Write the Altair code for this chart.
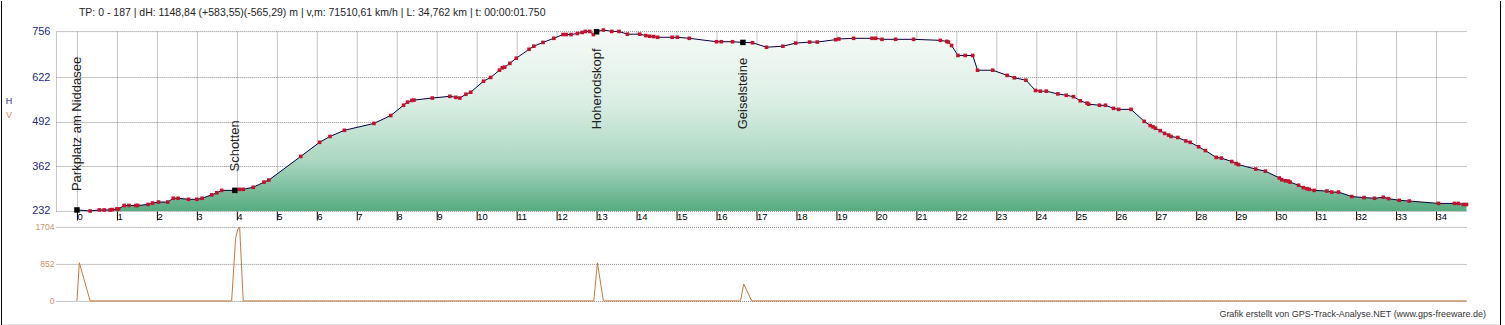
import altair as alt
import pandas as pd

# ---------------- data ----------------
km = [0.00, 0.33, 0.56, 0.68, 0.83, 0.88, 1.00, 1.04, 1.18, 1.30, 1.47, 1.52, 1.78, 1.89, 2.04, 2.27,
      2.41, 2.53, 2.79, 3.00, 3.13, 3.37, 3.50, 3.62, 3.95, 4.07, 4.16, 4.41, 4.68, 4.80, 5.60, 6.07,
      6.33, 6.69, 7.43, 7.85, 8.17, 8.27, 8.38, 8.43, 8.89, 9.33, 9.48, 9.58, 9.73, 9.85, 10.17, 10.35,
      10.57, 10.64, 10.70, 10.83, 10.99, 11.31, 11.43, 11.66, 11.93, 12.16, 12.24, 12.36, 12.52, 12.64,
      12.72, 12.83, 12.92, 13.00, 13.17, 13.38, 13.56, 13.77, 14.08, 14.23, 14.33, 14.43, 14.53, 14.89,
      15.02, 15.32, 16.00, 16.12, 16.40, 16.66, 16.90, 17.25, 17.66, 17.98, 18.33, 18.52, 18.98, 19.06,
      19.43, 19.89, 19.98, 20.14, 20.48, 20.93, 21.60, 21.76, 21.80, 21.88, 22.04, 22.22, 22.41, 22.53,
      22.91, 23.27, 23.45, 23.74, 23.98, 24.10, 24.25, 24.54, 24.75, 24.93, 25.10, 25.27, 25.31, 25.58,
      25.73, 25.93, 26.06, 26.37, 26.70, 26.85, 26.92, 26.98, 27.10, 27.21, 27.31, 27.37, 27.54, 27.74,
      27.85, 28.06, 28.23, 28.50, 28.63, 28.89, 29.00, 29.06, 29.49, 29.73, 30.08, 30.14, 30.23, 30.31,
      30.35, 30.56, 30.68, 30.77, 30.83, 30.95, 31.27, 31.39, 31.56, 31.89, 32.20, 32.46, 32.68, 32.81,
      33.08, 33.33, 34.06, 34.46, 34.56, 34.68, 34.762]
elevation = [235, 232, 235, 235, 235, 236, 238, 238, 248, 248, 248, 248, 251, 255, 258, 258,
             269, 269, 266, 266, 269, 279, 285, 292, 292, 295, 295, 301, 316, 322, 391, 432,
             449, 467, 487, 510, 540, 549, 554, 555, 561, 566, 563, 561, 572, 578, 610, 621,
             642, 649, 651, 662, 677, 703, 712, 723, 735, 746, 746, 746, 749, 752,
             755, 755, 746, 754, 759, 755, 755, 747, 747, 743, 741, 740, 738, 738,
             738, 735, 725, 725, 725, 723, 722, 709, 712, 721, 724, 724, 731, 733,
             735, 735, 735, 732, 732, 732, 729, 726, 724, 714, 685, 685, 685, 642,
             642, 627, 620, 613, 583, 581, 581, 573, 569, 565, 553, 546, 543, 540,
             540, 531, 528, 528, 493, 481, 477, 473, 466, 458, 453, 449, 446, 436,
             432, 419, 408, 388, 386, 376, 370, 367, 354, 348, 328, 323, 320, 319,
             316, 307, 300, 297, 295, 292, 290, 287, 287, 274, 271, 269, 272, 268,
             263, 261, 254, 254, 254, 251, 251]

wp_names = ["Parkplatz am Niddasee", "Schotten", "Hoherodskopf", "Geiselsteine"]
wp_km = [0.00, 3.95, 13.00, 16.66]
wp_ele = [235, 292, 754, 723]

speed_km = [0.00, 0.06, 0.33, 3.87, 3.97, 4.02, 4.07, 4.16, 12.93, 13.02, 13.17, 16.60, 16.68, 16.88, 34.762]
speed_val = [0, 880, 0, 0, 1450, 1640, 1704, 0, 0, 880, 0, 0, 390, 0, 0]

x_ticks = list(range(0, 35))
ele_ticks = [232, 362, 492, 622, 756]
speed_ticks = [0, 852, 1704]

title_text = "TP: 0 - 187 | dH: 1148,84  (+583,55)(-565,29) m | v,m: 71510,61 km/h | L: 34,762 km | t: 00:00:01.750"
credit_text = "Grafik erstellt von GPS-Track-Analyse.NET (www.gps-freeware.de)"

# ---------------- frames ----------------
FONT = "Liberation Sans"
prof = pd.DataFrame({"km": km, "ele": elevation, "base": [232] * len(km)})
wps = pd.DataFrame({"km": wp_km, "ele": wp_ele, "name": wp_names,
                    "lab": [min(e + 55, 470) for e in wp_ele]})
spd = pd.DataFrame({"km": speed_km, "v": speed_val})
one = pd.DataFrame({"a": [0]})

W = 1412
xscale = alt.Scale(domain=[-0.525, 34.775], nice=False, zero=False)

x_top = alt.X("km:Q", scale=xscale, title=None,
              axis=alt.Axis(values=x_ticks, grid=True, gridDash=[1, 1], gridColor="#8a8a8a",
                            ticks=True, tickColor="#000000", tickSize=9, domain=False,
                            labelAlign="left", labelBaseline="top", labelPadding=-8,
                            labelExpr="' ' + datum.label",
                            labelFontSize=9.5, labelColor="#000000", labelFont=FONT,
                            labelOverlap=False, labelBound=False, labelFlush=False))
y_top = alt.Y("ele:Q", scale=alt.Scale(domain=[232, 756], nice=False, zero=False), title=None,
              axis=alt.Axis(values=ele_ticks, grid=True, gridDash=[1, 1], gridColor="#8a8a8a",
                            ticks=False, domain=True, domainDash=[1, 1], domainColor="#8a8a8a",
                            labelColor="#1f2a7a", labelFontSize=11, labelPadding=6, labelFont=FONT,
                            format="d", labelOverlap=False))

gradient = alt.Gradient(
    gradient="linear",
    stops=[alt.GradientStop(color="#f7fbf8", offset=0),
           alt.GradientStop(color="#daeee4", offset=0.4),
           alt.GradientStop(color="#acd7c2", offset=0.72),
           alt.GradientStop(color="#56ab80", offset=1)],
    x1=0, x2=0, y1=0, y2=1)

# invisible box that fixes the whole picture's extent (55 px left, 30 px above the plot)
extent = alt.Chart(one).mark_rect(fill="#ffffff", opacity=0).encode(
    x=alt.value(-55), x2=alt.value(1450), y=alt.value(-30), y2=alt.value(295))
border = alt.Chart(pd.DataFrame({"x": [-54.5, 1445.5], "y": [-30, -30], "y2": [295, 295]})).mark_rule(
    color="#000000", strokeWidth=1).encode(
    x=alt.X("x:Q", scale=None), y=alt.Y("y:Q", scale=None), y2="y2:Q")
border_b = alt.Chart(one).mark_rule(color="#000000", strokeWidth=1).encode(
    x=alt.value(-55), x2=alt.value(1446), y=alt.value(294.5))

area = alt.Chart(prof).mark_area(color=gradient, interpolate="linear").encode(
    x=x_top, y=y_top, y2="base:Q")
line = alt.Chart(prof).mark_line(color="#00003a", strokeWidth=1).encode(x=x_top, y=y_top)
pts = alt.Chart(prof).mark_square(size=13, color="#c8102e", opacity=1).encode(x=x_top, y=y_top)
wp_pts = alt.Chart(wps).mark_square(size=30, color="#000000", opacity=1).encode(x=x_top, y=y_top)
wp_lab = alt.Chart(wps).mark_text(angle=270, align="left", baseline="middle", fontSize=13,
                                  font=FONT, color="#222222").encode(
    x=x_top, y=alt.Y("lab:Q", scale=alt.Scale(domain=[232, 756], nice=False, zero=False)),
    text="name:N")

title = alt.Chart(pd.DataFrame({"t": [title_text]})).mark_text(
    align="left", baseline="middle", fontSize=10.5, font=FONT, color="#222222").encode(
    text="t:N", x=alt.value(23), y=alt.value(-18))
hv = alt.Chart(pd.DataFrame({"t": ["H", "V"], "c": ["#1f2a80", "#d08a60"], "yy": [70, 84]})).mark_text(
    align="center", baseline="middle", fontSize=9, font=FONT).encode(
    text="t:N", x=alt.value(-47), y=alt.Y("yy:Q", scale=None), color=alt.Color("c:N", scale=None))

top = alt.layer(extent, area, line, pts, wp_pts, wp_lab, title, hv, border, border_b).properties(
    width=W, height=180)

x_bot = alt.X("km:Q", scale=xscale, title=None, axis=None)
y_bot = alt.Y("v:Q", scale=alt.Scale(domain=[0, 1704], nice=False), title=None,
              axis=alt.Axis(values=speed_ticks, grid=True, gridDash=[1, 1], gridColor="#8a8a8a",
                            ticks=False, domain=False, labelColor="#c8946a", labelFontSize=8.5,
                            labelPadding=2, labelFont=FONT, format="d", labelOverlap=False))
speed = alt.Chart(spd).mark_line(color="#c07a3c", strokeWidth=1).encode(x=x_bot, y=y_bot)
credit = alt.Chart(pd.DataFrame({"t": [credit_text]})).mark_text(
    align="right", baseline="middle", fontSize=9, font=FONT, color="#333333").encode(
    text="t:N", x=alt.value(1431), y=alt.value(87))

bottom = alt.layer(speed, credit).properties(width=W, height=74)

chart = alt.vconcat(top, bottom, spacing=16, bounds="flush").properties(
    padding=0,
    background="#ffffff",
).configure_view(stroke=None)

chart.save("out.html", embed_options={"renderer": "svg", "actions": False})
